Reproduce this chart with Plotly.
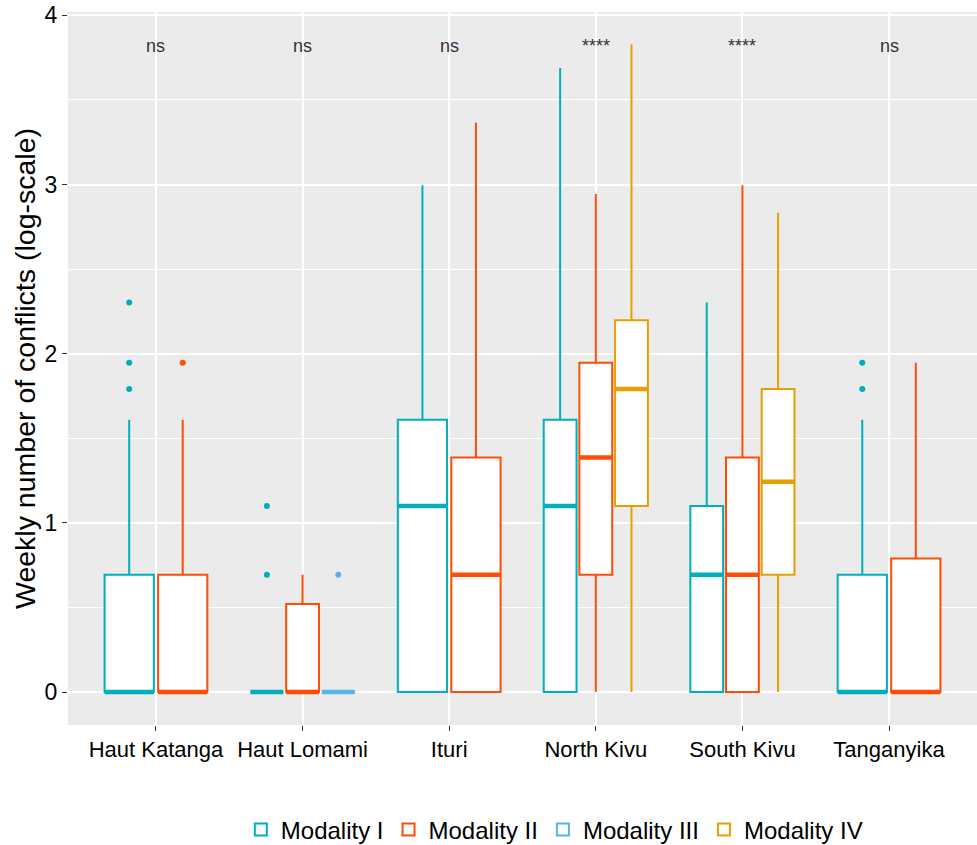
import plotly.graph_objects as go

# ---- data (log(1+count) scale) ----
categories = ["Haut Katanga", "Haut Lomami", "Ituri", "North Kivu", "South Kivu", "Tanganyika"]
modalities = ["Modality I", "Modality II", "Modality III", "Modality IV"]

# per-modality stats by category (None = modality absent in that province)
q1 = {
    "Modality I":   [0, 0, 0, 0, 0, 0],
    "Modality II":  [0, 0, 0, 0.693, 0, 0],
    "Modality III": [None, 0, None, None, None, None],
    "Modality IV":  [None, None, None, 1.099, 0.693, None],
}
median = {
    "Modality I":   [0, 0, 1.099, 1.099, 0.693, 0],
    "Modality II":  [0, 0, 0.693, 1.386, 0.693, 0],
    "Modality III": [None, 0, None, None, None, None],
    "Modality IV":  [None, None, None, 1.792, 1.243, None],
}
q3 = {
    "Modality I":   [0.693, 0, 1.609, 1.609, 1.099, 0.693],
    "Modality II":  [0.693, 0.52, 1.386, 1.946, 1.386, 0.79],
    "Modality III": [None, 0, None, None, None, None],
    "Modality IV":  [None, None, None, 2.197, 1.792, None],
}
lower = {
    "Modality I":   [0, 0, 0, 0, 0, 0],
    "Modality II":  [0, 0, 0, 0, 0, 0],
    "Modality III": [None, 0, None, None, None, None],
    "Modality IV":  [None, None, None, 0, 0, None],
}
upper = {
    "Modality I":   [1.609, 0, 2.996, 3.689, 2.303, 1.609],
    "Modality II":  [1.609, 0.693, 3.367, 2.944, 2.996, 1.946],
    "Modality III": [None, 0, None, None, None, None],
    "Modality IV":  [None, None, None, 3.829, 2.833, None],
}
outliers = {
    "Modality I":   [[2.303, 1.946, 1.792], [1.099, 0.693], [], [], [], [1.946, 1.792]],
    "Modality II":  [[1.946], [], [], [], [], []],
    "Modality III": [[], [0.693], [], [], [], []],
    "Modality IV":  [[], [], [], [], [], []],
}
signif_labels = ["ns", "ns", "ns", "****", "****", "ns"]
signif_y = 3.82

colors = {
    "Modality I": "#00AFBB",
    "Modality II": "#FC4E07",
    "Modality III": "#56B4E9",
    "Modality IV": "#E69F00",
}

fig = go.Figure()
shown = set()
for ci, cat in enumerate(categories):
    for m in modalities:
        if q1[m][ci] is None:
            continue
        col = colors[m]
        pts = outliers[m][ci]
        if pts:
            kw = dict(y=[pts], boxpoints="outliers", jitter=0, pointpos=0)
        else:
            kw = dict(boxpoints=False)
        fig.add_trace(go.Box(
            x=[cat],
            q1=[q1[m][ci]], median=[median[m][ci]], q3=[q3[m][ci]],
            lowerfence=[lower[m][ci]], upperfence=[upper[m][ci]],
            name=m, legendgroup=m, showlegend=(m not in shown),
            alignmentgroup=cat, offsetgroup=m,
            marker=dict(color=col, size=6),
            line=dict(color=col, width=2), fillcolor="white",
            whiskerwidth=0, hoverinfo="skip", **kw,
        ))
        shown.add(m)
        # thick median bar (ggplot fatten)
        fig.add_trace(go.Box(
            x=[cat],
            q1=[median[m][ci]], median=[median[m][ci]], q3=[median[m][ci]],
            lowerfence=[median[m][ci]], upperfence=[median[m][ci]],
            name=m, legendgroup=m, showlegend=False,
            alignmentgroup=cat, offsetgroup=m,
            boxpoints=False,
            line=dict(color=col, width=4.5), fillcolor=col,
            whiskerwidth=0, hoverinfo="skip",
        ))

for cat, lab in zip(categories, signif_labels):
    fig.add_annotation(x=cat, y=signif_y, text=lab, showarrow=False,
                       font=dict(size=18, color="#333333"),
                       yanchor="middle")

fig.update_layout(
    width=977, height=845,
    paper_bgcolor="white", plot_bgcolor="#EBEBEB",
    boxmode="group", boxgap=0.27, boxgroupgap=0.08,
    margin=dict(l=68, r=0, t=12, b=120, autoexpand=False),
    font=dict(family="Liberation Sans, Arial, sans-serif", color="black"),
    legend=dict(orientation="h", x=0.535, xanchor="center", y=-0.147, yanchor="middle",
                font=dict(size=24, color="black"), itemwidth=30, tracegroupgap=0),
    showlegend=True,
)
fig.update_xaxes(
    type="category", categoryorder="array", categoryarray=categories,
    range=[-0.6, 5.6], showgrid=True, gridcolor="white", gridwidth=1.5,
    ticks="outside", ticklen=5, tickcolor="#333333", tickwidth=1,
    tickfont=dict(size=22, color="black"), zeroline=False, showline=False,
    automargin=False,
)
fig.update_yaxes(
    range=[-0.195, 4.02], tickvals=[0, 1, 2, 3, 4],
    showgrid=True, gridcolor="white", gridwidth=1.5,
    minor=dict(dtick=0.5, tick0=0, showgrid=True, gridcolor="white", gridwidth=0.8),
    ticks="outside", ticklen=5, tickcolor="#333333", tickwidth=1,
    tickfont=dict(size=23, color="black"), ticklabeloverflow="allow",
    zeroline=False, showline=False,
    title=dict(text="Weekly number of conflicts (log-scale)", font=dict(size=28.5, color="black"), standoff=0),
)

# remove the page's default body margin so the figure fills the window exactly
fig.write_html("out.html", config={"displayModeBar": False},
               post_script="document.body.style.margin='0';")
